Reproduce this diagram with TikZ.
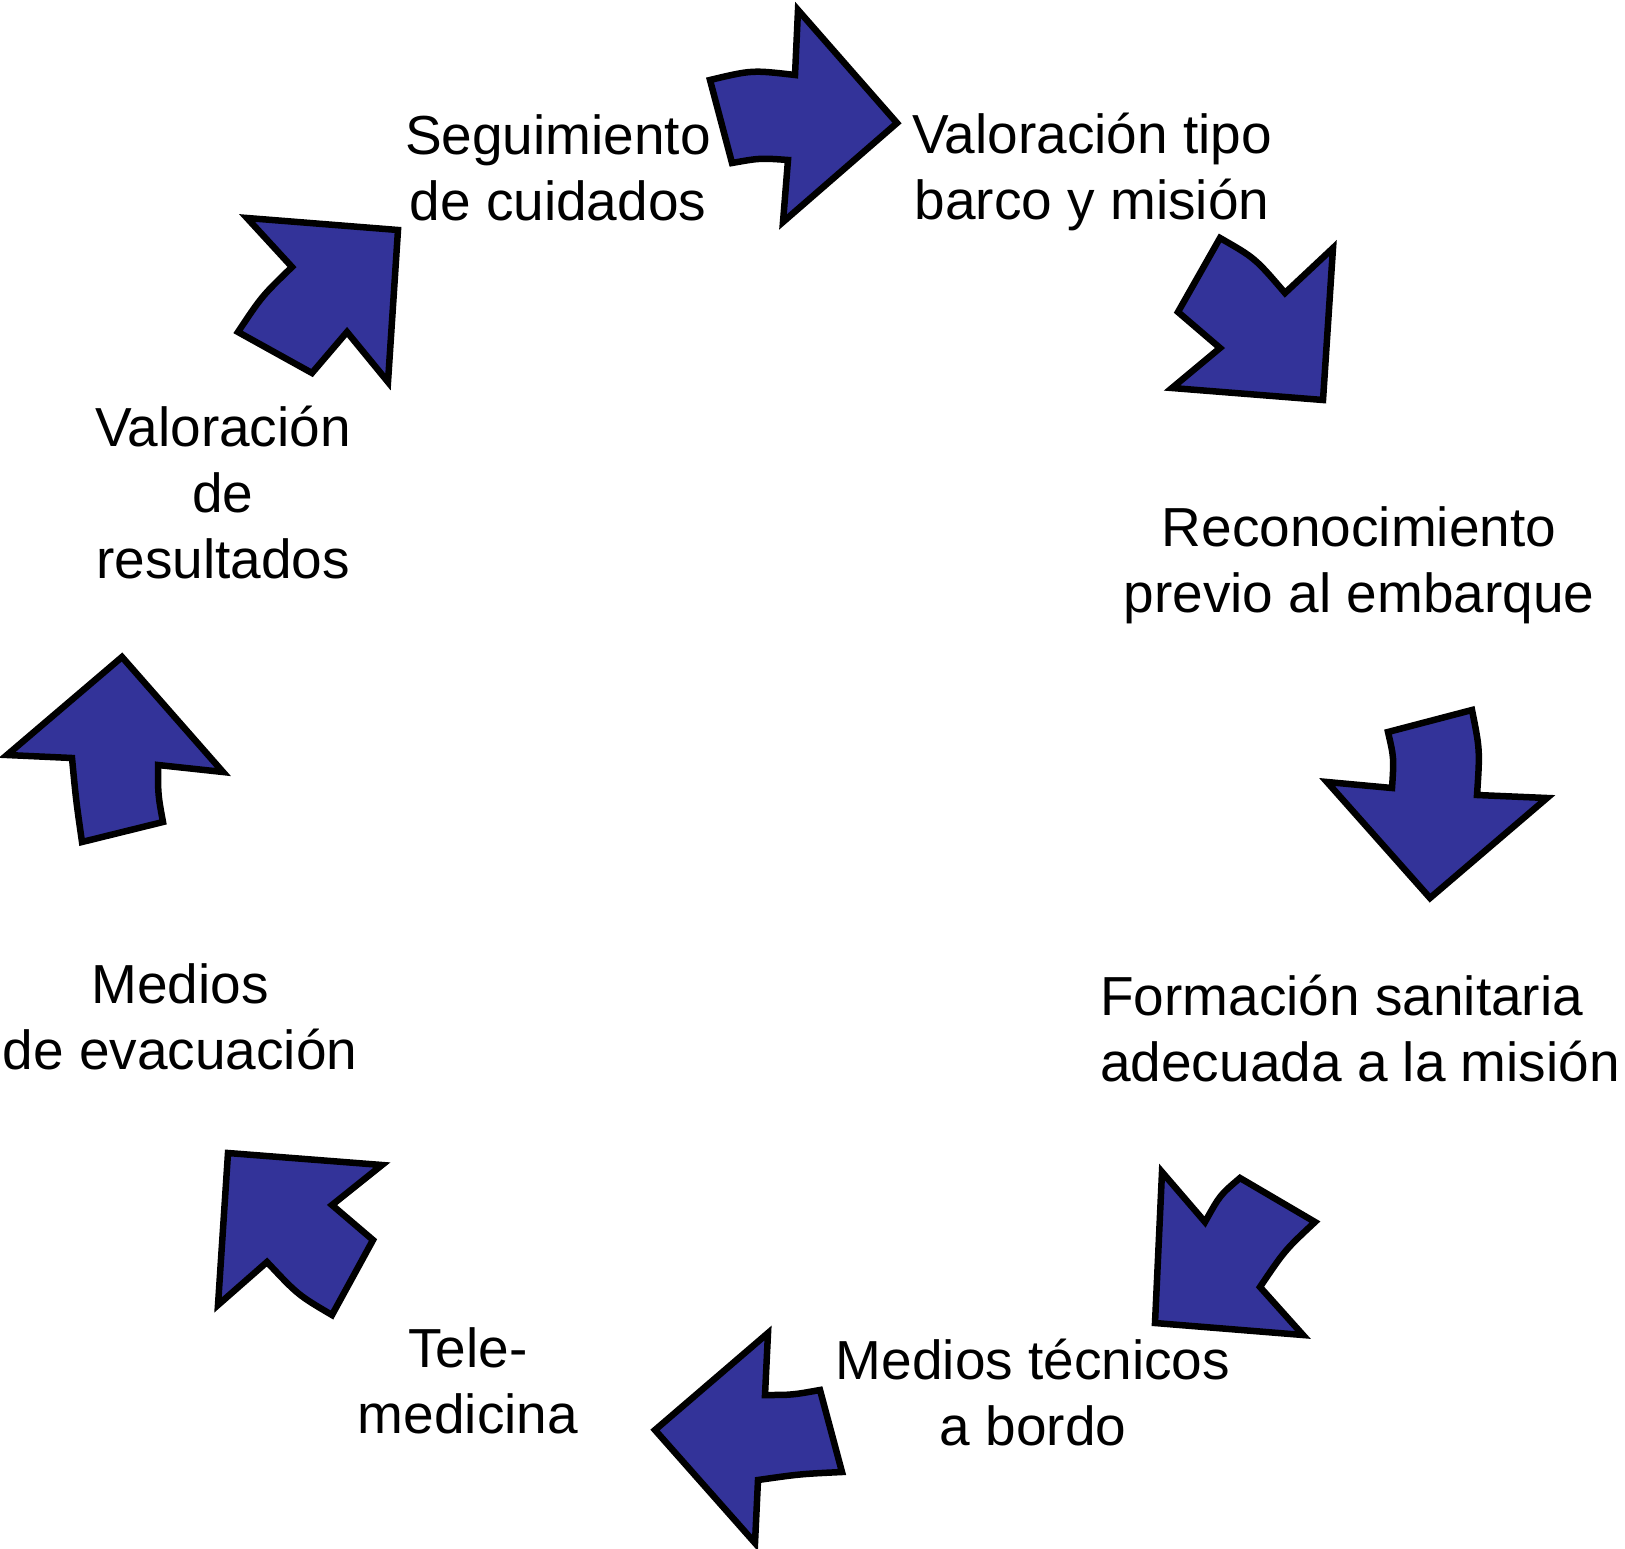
\documentclass[tikz,border=0pt]{standalone}
\usepackage{fontspec}
\setmainfont{Liberation Sans}
\definecolor{arrowblue}{HTML}{333399}
\begin{document}
\begin{tikzpicture}[x=1pt,y=-1pt,
  bigarrow/.style={fill=arrowblue,draw=black,line width=6.5pt,line join=miter,miter limit=10},
  lbl/.style={inner sep=0pt,align=center,font=\fontsize{55}{66}\selectfont}]
\useasboundingbox (0,0) rectangle (1625,1549);
% arrow 1 (top)
\draw[bigarrow] (710,80) .. controls (752,70) .. (795,75) -- (798,10) -- (897,123) -- (783,222) -- (788,160) .. controls (760,158) .. (732,163) -- cycle;
% arrow 2
\draw[bigarrow] (1220,238) .. controls (1255,258) .. (1285,293) -- (1333,248) -- (1323,400) -- (1172,388) -- (1220,348) -- (1178,312) -- cycle;
% arrow 3
\draw[bigarrow] (1388,732) -- (1472,710) .. controls (1480,750) .. (1477,795) -- (1547,798) -- (1430,898) -- (1327,782) -- (1392,788) .. controls (1394,758) .. (1388,732) -- cycle;
% arrow 4
\draw[bigarrow] (1162,1172) -- (1205,1222) .. controls (1220,1195) .. (1240,1178) -- (1315,1222) .. controls (1285,1250) .. (1260,1287) -- (1303,1335) -- (1155,1323) -- cycle;
% arrow 5 (bottom)
\draw[bigarrow] (655,1430) -- (768,1333) -- (765,1395) .. controls (792,1395) .. (820,1390) -- (842,1472) .. controls (800,1474) .. (758,1480) -- (755,1543) -- cycle;
% arrow 6
\draw[bigarrow] (228,1153) -- (382,1165) -- (332,1205) -- (373,1240) -- (332,1315) .. controls (298,1295) .. (267,1262) -- (218,1305) -- cycle;
% arrow 7 (left)
\draw[bigarrow] (122,657) -- (223,772) -- (158,765) .. controls (158,795) .. (163,822) -- (82,842) .. controls (76,800) .. (72,758) -- (7,755) -- cycle;
% arrow 8
\draw[bigarrow] (247,218) -- (398,230) -- (388,382) -- (347,332) -- (312,373) -- (238,332) .. controls (262,296) .. (292,267) -- cycle;
% labels
\node[lbl] (seg) at (558,168) {Seguimiento\\de cuidados};
\node[lbl] (valtipo) at (1092,172) {Valoración tipo\\barco y misión};
\node[lbl] (recon) at (1359,565) {Reconocimiento\\previo al embarque};
\node[lbl,align=left,anchor=west] (form) at (1100,1029) {Formación sanitaria\\adecuada a la misión};
\node[lbl] (medtec) at (1033,1393) {Medios técnicos\\a bordo};
\node[lbl] (tele) at (468,1381) {Tele-\\medicina};
\node[lbl] (evac) at (180,1017) {Medios\\de evacuación};
\node[lbl] (valres) at (223,493) {Valoración\\de\\resultados};
\end{tikzpicture}
\end{document}
